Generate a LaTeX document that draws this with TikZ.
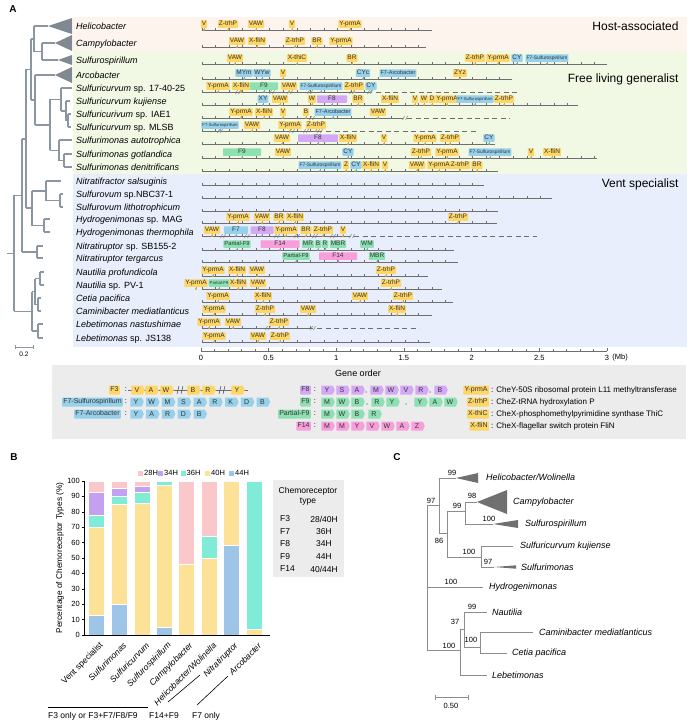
\documentclass[tikz,border=0pt]{standalone}
\usepackage{fontspec}
\setmainfont{Liberation Sans}
\usetikzlibrary{calc,shapes.symbols}
\definecolor{gY}{RGB}{253,214,102}
\definecolor{gB}{RGB}{150,208,235}
\definecolor{gP}{RGB}{212,168,245}
\definecolor{gG}{RGB}{140,224,178}
\definecolor{gK}{RGB}{248,158,218}
\definecolor{TreeClr}{RGB}{139,150,163}
\definecolor{TriClr}{RGB}{128,136,146}
\definecolor{HostBg}{RGB}{253,244,238}
\definecolor{FreeBg}{RGB}{241,248,228}
\definecolor{VentBg}{RGB}{232,238,251}
\definecolor{LegBg}{RGB}{236,236,236}
\definecolor{TrackClr}{RGB}{110,110,110}
\definecolor{CTreeClr}{RGB}{140,140,140}
\definecolor{CTriClr}{RGB}{112,112,112}
\definecolor{h28}{RGB}{250,200,202}
\definecolor{h34}{RGB}{196,160,240}
\definecolor{h36}{RGB}{128,236,214}
\definecolor{h40}{RGB}{252,226,150}
\definecolor{h44}{RGB}{158,196,232}

\tikzset{
  plab/.style={font=\bfseries\fontsize{10}{12}\selectfont},
  grp/.style={anchor=east,font=\fontsize{12}{14}\selectfont},
  sp/.style={anchor=base west,inner sep=0pt,font=\fontsize{9}{10}\selectfont},
  tree/.style={draw=TreeClr,line width=1.6pt},
  trk/.style={draw=TrackClr,line width=.6pt},
  tk/.style={draw=TrackClr,line width=.4pt},
  gbox/.style={inner xsep=1pt,inner ysep=.6pt,minimum height=7.5pt,text height=4.7pt,text depth=1.2pt,
    rounded corners=.6pt,text=black!80,font=\fontsize{6.5}{7}\selectfont},
  lkey/.style={inner xsep=1.2pt,inner ysep=0pt,minimum height=9pt,text height=5pt,text depth=1.3pt,
    rounded corners=.8pt,text=black!80,font=\fontsize{7}{8}\selectfont},
  lbox/.style={shape=signal,signal to=east,signal pointer angle=130,inner sep=0pt,minimum width=13.5pt,
    minimum height=9pt,text height=5pt,text depth=0pt,text=black!80,font=\fontsize{7}{8}\selectfont},
  ltxt/.style={anchor=west,inner sep=0pt,font=\fontsize{8}{9}\selectfont},
  axlab/.style={inner sep=0pt,font=\fontsize{7.5}{9}\selectfont},
  blab/.style={inner sep=0pt,font=\fontsize{7.5}{9}\selectfont},
  xlab/.style={anchor=east,rotate=45,inner sep=0pt,font=\fontsize{8.5}{10}\selectfont},
  btxt/.style={inner sep=0pt,font=\fontsize{8.5}{10}\selectfont},
  ttxt/.style={inner sep=0pt,font=\fontsize{8.5}{10}\selectfont},
  ctree/.style={draw=CTreeClr,line width=1pt},
  clab/.style={anchor=west,inner sep=0pt,font=\itshape\fontsize{9}{10}\selectfont},
  bs/.style={inner sep=0pt,font=\fontsize{7.5}{9}\selectfont}
}

\newcommand{\fsul}{{\fontsize{4.9}{5}\selectfont F7-Sulfurospirillum}}
\newcommand{\fsulS}{{\fontsize{4.2}{5}\selectfont F7-Sulfurospirillum}}
\newcommand{\farc}{{\fontsize{5.5}{6}\selectfont F7-Arcobacter}}
\newcommand{\fpar}{{\fontsize{5.8}{6}\selectfont Partial-F9}}
\newcommand{\fparS}{{\fontsize{4.3}{5}\selectfont Partial-F9}}

\newcommand{\gene}[5]{%
  \draw[#3!80!black,line width=.5pt] (#1,#2+1.5) -- (#1,#2+4);
  \fill[#3!80!black] (#1,#2+4) circle (1.2);
  \node[gbox,fill=#3,minimum width=#4] (g#2-#1) at (#1,#2-2) {#5};}
\newcommand{\brk}[2]{\draw[TrackClr,line width=.45pt] (#1-2.5,#2+6) -- (#1-.5,#2+2) (#1+.5,#2+6) -- (#1+2.5,#2+2);}

\begin{document}
\begin{tikzpicture}[x=1pt,y=-1pt]
\useasboundingbox (0,0) rectangle (694,728);

% panel A
\node[plab] (labA) at (13,9) {A};
\fill[HostBg] (73,17) rectangle (687,51);
\fill[FreeBg] (73,51) rectangle (687,174);
\fill[VentBg] (73,174) rectangle (687,347);
\node[grp] (host) at (682,26) {Host-associated};
\node[grp] (free) at (682,79) {Free living generalist};
\node[grp] (vent) at (682,184) {Vent specialist};

\foreach \y/\nm [count=\i] in {26/{\textit{Helicobacter}},43/{\textit{Campylobacter}},60/{\textit{Sulfurospirillum}},
  75/{\textit{Arcobacter}},88/{\textit{Sulfuricurvum} sp. 17-40-25},101/{\textit{Sulfuricurvum kujiense}},
  114/{\textit{Sulfuricurivum} sp. IAE1},127/{\textit{Sulfuricurvum} sp. MLSB},140/{\textit{Sulfurimonas autotrophica}},
  154/{\textit{Sulfurimonas gotlandica}},167/{\textit{Sulfurimonas denitrificans}},181/{\textit{Nitratifractor salsuginis}},
  194/{\textit{Sulfurovum} sp.NBC37-1},207/{\textit{Sulfurovum lithotrophicum}},219/{\textit{Hydrogenimonas} sp. MAG},
  232/{\textit{Hydrogenimonas thermophila}},246/{\textit{Nitratiruptor} sp. SB155-2},258/{\textit{Nitratiruptor tergarcus}},
  272/{\textit{Nautilia profundicola}},285/{\textit{Nautilia} sp. PV-1},298/{\textit{Cetia pacifica}},
  311/{\textit{Caminibacter mediatlanticus}},324/{\textit{Lebetimonas nastushimae}},338/{\textit{Lebetimonas} sp. JS138}}
  \node[sp] (sp\i) at (76,\y+3.2) {\nm};

% tree
\begin{scope}[tree]
\draw (42,43) -- (42,60) (42,43) -- (55,43) (42,60) -- (58,60);
\draw (34,26) -- (34,51.5) (34,26) -- (48,26) (34,51.5) -- (42,51.5);
\draw (68,114) -- (68,127) (68,114) -- (71,114) (68,127) -- (71,127);
\draw (66,101) -- (66,120.5) (66,101) -- (70,101) (66,120.5) -- (68,120.5);
\draw (61,88) -- (61,110.8) (61,88) -- (72,88) (61,110.8) -- (66,110.8);
\draw (64,154) -- (64,167) (64,154) -- (72,154) (64,167) -- (72,167);
\draw (59,140) -- (59,160.5) (59,140) -- (72,140) (59,160.5) -- (64,160.5);
\draw (50,99.4) -- (50,150.3) (50,99.4) -- (61,99.4) (50,150.3) -- (59,150.3);
\draw (35,75) -- (35,124.8) (35,75) -- (55,75) (35,124.8) -- (50,124.8);
\draw (31,38.8) -- (31,99.9) (31,38.8) -- (34,38.8) (31,99.9) -- (35,99.9);
\draw (60,194) -- (60,207) (60,194) -- (63,194) (60,207) -- (63,207);
\draw (46,181) -- (46,200.5) (46,181) -- (61,181) (46,200.5) -- (60,200.5);
\draw (44,219) -- (44,232) (44,219) -- (50,219) (44,232) -- (50,232);
\draw (32,190.8) -- (32,225.5) (32,190.8) -- (46,190.8) (32,225.5) -- (44,225.5);
\draw (37,246) -- (37,258) (37,246) -- (43,246) (37,258) -- (43,258);
\draw (26,69.3) -- (26,208.1) (26,69.3) -- (31,69.3) (26,208.1) -- (32,208.1);
\draw (22,138.7) -- (22,252) (22,138.7) -- (26,138.7) (22,252) -- (37,252);
\draw (40,272) -- (40,285) (40,272) -- (44,272) (40,285) -- (44,285);
\draw (38,298) -- (38,311) (38,298) -- (41,298) (38,311) -- (41,311);
\draw (38,324) -- (38,338) (38,324) -- (43,324) (38,338) -- (43,338);
\draw (35,278.5) -- (35,304.5) (35,278.5) -- (40,278.5) (35,304.5) -- (38,304.5);
\draw (32,291.5) -- (32,331) (32,291.5) -- (35,291.5) (32,331) -- (38,331);
\draw (14,195.3) -- (14,311.3) (14,195.3) -- (22,195.3) (14,311.3) -- (32,311.3) (7,253.3) -- (14,253.3);
\end{scope}
\fill[TriClr] (48,26) -- (72,18) -- (72,34) -- cycle;
\fill[TriClr] (55,43) -- (72,35) -- (72,51) -- cycle;
\fill[TriClr] (58,60) -- (72,55) -- (72,65) -- cycle;
\fill[TriClr] (55,75) -- (72,67) -- (72,83) -- cycle;
\draw[TreeClr,line width=.6pt] (15,347) -- (33,347) (15,345) -- (15,349) (33,345) -- (33,349);
\node[inner sep=0pt,font=\fontsize{6.5}{7}\selectfont] (sc02) at (24,354) {0.2};

% gene tracks
\foreach \y/\xe in {26/432,43/426,60/607,75/512,101/578,140/495,154/597,167/498,181/484,194/552,207/498,
  219/497,246/454,258/458,272/428,285/442,298/453,311/432,338/430}{
  \draw[trk] (202,\y+4) -- (\xe,\y+4);
  \pgfmathtruncatemacro{\nt}{(\xe-202)/13.53}
  \foreach \k in {0,...,\nt} \draw[tk] ({202+13.53*\k},\y+4) -- ++(0,-1.8);
}
\foreach \y/\xs/\xe in {88/372/518,114/403/510,127/322/477,232/350/537,324/313/419}{
  \draw[trk] (202,\y+4) -- (\xs,\y+4);
  \draw[trk,dash pattern=on 5pt off 3.5pt] (\xs+4,\y+4) -- (\xe,\y+4);
  \pgfmathtruncatemacro{\nt}{(\xs-202)/13.53}
  \foreach \k in {0,...,\nt} \draw[tk] ({202+13.53*\k},\y+4) -- ++(0,-1.8);
}
\foreach \x in {238,272,290,310,352,370} \brk{\x}{88};
\foreach \x in {312,405} \brk{\x}{114};
\foreach \x in {220,292,306,320} \brk{\x}{127};
\foreach \x in {223,247,277,297,315,333,352} \brk{\x}{232};
\foreach \x in {268,313} \brk{\x}{324};

\foreach \x/\cl/\gw/\gt in {204/gY/0/V,228/gY/0/Z-trhP,256/gY/0/VAW,292/gY/0/V,350/gY/0/Y-prmA} \gene{\x}{26}{\cl}{\gw}{\gt};
\foreach \x/\cl/\gw/\gt in {237/gY/0/VAW,257/gY/0/X-fliN,295/gY/0/Z-trhP,317/gY/0/BR,341/gY/0/Y-prmA} \gene{\x}{43}{\cl}{\gw}{\gt};
\foreach \x/\cl/\gw/\gt in {235/gY/0/VAW,297/gY/0/X-thiC,352/gY/0/BR,475/gY/0/Z-trhP,498/gY/0/Y-prmA,517/gB/0/CY,547/gB/0/\fsul} \gene{\x}{60}{\cl}{\gw}{\gt};
\foreach \x/\cl/\gw/\gt in {244/gB/0/MYm,262/gB/0/WYw,283/gY/0/V,363/gB/0/CYc,398/gB/0/\farc,460/gY/0/ZYz} \gene{\x}{75}{\cl}{\gw}{\gt};
\foreach \x/\cl/\gw/\gt in {218/gY/0/Y-prmA,241/gY/0/X-fliN,264/gG/28/F9,289/gY/0/VAW,321/gB/0/\fsul,354/gY/0/Z-trhP,371/gB/0/CY} \gene{\x}{88}{\cl}{\gw}{\gt};
\foreach \x/\cl/\gw/\gt in {263/gB/0/XY,280/gY/0/VAW,312/gY/0/W,332/gP/30/F8,358/gY/0/BR,390/gY/0/X-fliN,415/gY/0/V,424/gY/0/W,432/gY/0/D,447/gY/0/Y-prmA,475/gB/0/\fsulS,504/gY/0/Z-trhP} \gene{\x}{101}{\cl}{\gw}{\gt};
\foreach \x/\cl/\gw/\gt in {241/gY/0/Y-prmA,264/gY/0/X-fliN,283/gY/0/V,306/gY/0/B,333/gB/0/\farc,378/gY/0/VAW} \gene{\x}{114}{\cl}{\gw}{\gt};
\foreach \x/\cl/\gw/\gt in {220/gB/0/\fsulS,252/gY/0/VAW,290/gY/0/Y-prmA,316/gY/0/Z-trhP} \gene{\x}{127}{\cl}{\gw}{\gt};
\foreach \x/\cl/\gw/\gt in {282/gY/0/VAW,318/gP/40/F8,348/gY/0/X-fliN,384/gY/0/V,425/gY/0/Y-prmA,450/gY/0/Z-trhP,489/gB/0/CY} \gene{\x}{140}{\cl}{\gw}{\gt};
\foreach \x/\cl/\gw/\gt in {242/gG/38/F9,283/gY/0/VAW,348/gB/0/CY,421/gY/0/Z-trhP,447/gY/0/Y-prmA,490/gB/0/\fsul,531/gY/0/V,552/gY/0/X-fliN} \gene{\x}{154}{\cl}{\gw}{\gt};
\foreach \x/\cl/\gw/\gt in {320/gB/0/\fsul,346/gY/0/Z,356/gB/0/CY,371/gY/0/X-fliN,385/gY/0/V,417/gY/0/VAW,439/gY/0/Y-prmA,460/gY/0/Z-trhP,477/gY/0/BR} \gene{\x}{167}{\cl}{\gw}{\gt};
\foreach \x/\cl/\gw/\gt in {238/gY/0/Y-prmA,262/gY/0/VAW,279/gY/0/BR,295/gY/0/X-fliN,458/gY/0/Z-trhP} \gene{\x}{219}{\cl}{\gw}{\gt};
\foreach \x/\cl/\gw/\gt in {212/gY/0/VAW,236/gB/24/F7,262/gP/23/F8,286/gY/0/Y-prmA,306/gY/0/BR,323/gY/0/Z-trhP,343/gY/0/V} \gene{\x}{232}{\cl}{\gw}{\gt};
\foreach \x/\cl/\gw/\gt in {237/gG/0/\fpar,280/gK/39/F14,308/gG/0/MR,318/gG/0/B,325/gG/0/R,338/gG/0/MBR,367/gG/0/WM} \gene{\x}{246}{\cl}{\gw}{\gt};
\foreach \x/\cl/\gw/\gt in {296/gG/0/\fpar,338/gK/38/F14,377/gG/0/MBR} \gene{\x}{258}{\cl}{\gw}{\gt};
\foreach \x/\cl/\gw/\gt in {213/gY/0/Y-prmA,237/gY/0/X-fliN,257/gY/0/VAW,386/gY/0/Z-trhP} \gene{\x}{272}{\cl}{\gw}{\gt};
\foreach \x/\cl/\gw/\gt in {196/gY/0/Y-prmA,219/gG/0/\fparS,238/gY/0/X-fliN,258/gY/0/VAW,391/gY/0/Z-trhP} \gene{\x}{285}{\cl}{\gw}{\gt};
\foreach \x/\cl/\gw/\gt in {218/gY/0/Y-prmA,263/gY/0/X-fliN,360/gY/0/VAW,403/gY/0/Z-trhP} \gene{\x}{298}{\cl}{\gw}{\gt};
\foreach \x/\cl/\gw/\gt in {214/gY/0/Y-prmA,265/gY/0/Z-trhP,308/gY/0/VAW,397/gY/0/X-fliN} \gene{\x}{311}{\cl}{\gw}{\gt};
\foreach \x/\cl/\gw/\gt in {209/gY/0/Y-prmA,233/gY/0/VAW,279/gY/0/Z-trhP} \gene{\x}{324}{\cl}{\gw}{\gt};
\foreach \x/\cl/\gw/\gt in {214/gY/0/Y-prmA,258/gY/0/VAW,280/gY/0/Z-trhP} \gene{\x}{338}{\cl}{\gw}{\gt};

% gene order axis
\draw[TrackClr,line width=.6pt] (201,351) -- (607,351);
\foreach \k in {0,...,30} \draw[tk] ({201+13.53*\k},351) -- ++(0,-1.6);
\foreach \k/\lb in {0/0,5/0.5,10/1,15/1.5,20/2,25/2.5,30/3}{
  \draw[TrackClr,line width=.6pt] ({201+13.53*\k},351) -- ++(0,-3);
  \node[axlab] (ax\k) at ({201+13.53*\k},358) {\lb};}
\node[axlab,anchor=west] (mb) at ($(ax30.east)+(3,0)$) {(Mb)};

% legend
\fill[LegBg] (52,365) rectangle (686,439);
\node[inner sep=0pt,font=\fontsize{9}{10}\selectfont] (gorder) at (358,373) {Gene order};
\node[lkey,fill=gY,anchor=east] (kF3) at (120,390) {F3};
\node[lkey,fill=gB,anchor=east] (kF7s) at (123,402) {F7-Sulfurospirillum};
\node[lkey,fill=gB,anchor=east] (kF7a) at (121,414) {F7-Arcobacter};
\foreach \y in {390,402,414} \node[axlab] at (126,\y) {:};
\draw[TrackClr,line width=.5pt] (128,390) -- (248,390);
\foreach \x/\lt in {137/V,151/A,166/W,193/B,208/R,237/Y} \node[lbox,fill=gY] (f3-\x) at (\x,390) {\lt};
\foreach \x in {180,222} \draw[black!70,line width=.5pt] (\x-3,394) -- (\x-1,386) (\x+1,394) -- (\x+3,386);
\foreach \lt [count=\i] in {Y,W,M,S,A,R,K,D,B} \node[lbox,fill=gB] (f7s-\i) at ({120.2+15.8*\i},402) {\lt};
\foreach \lt [count=\i] in {Y,A,R,D,B} \node[lbox,fill=gB] (f7a-\i) at ({120.2+15.8*\i},414) {\lt};

\node[lkey,fill=gP,anchor=east] (kF8) at (311,390) {F8};
\node[lkey,fill=gG,anchor=east] (kF9) at (311,402) {F9};
\node[lkey,fill=gG,anchor=east] (kPF9) at (311,414) {Partial-F9};
\node[lkey,fill=gK,anchor=east] (kF14) at (311,426) {F14};
\foreach \y in {390,402,414,426} \node[axlab] at (315,\y) {:};
\foreach \x/\lt in {327/Y,342/S,357/A,376/M,391/W,406/V,421/R,440/B} \node[lbox,fill=gP] (f8-\x) at (\x,390) {\lt};
\foreach \x/\lt in {327/M,342/W,357/B,377/R,392/Y,420/Y,435/A,450/W} \node[lbox,fill=gG] (f9-\x) at (\x,402) {\lt};
\foreach \x/\lt in {327/M,342/W,357/B,374/R} \node[lbox,fill=gG] (pf9-\x) at (\x,414) {\lt};
\foreach \x/\lt in {327/M,342/M,357/Y,372/V,387/W,402/A,417/Z} \node[lbox,fill=gK] (f14-\x) at (\x,426) {\lt};
\foreach \x/\y/\cl in {366/390/gP,430/390/gP,367/402/gG,406/402/gG} \fill[\cl!80!black] (\x,\y+2) circle (.8);

\foreach \y/\k/\d in {390/Y-prmA/CheY-50S ribosomal protein L11 methyltransferase,402/Z-trhP/CheZ-tRNA hydroxylation P,
  414/X-thiC/CheX-phosphomethylpyrimidine synthase ThiC,426/X-fliN/CheX-flagellar switch protein FliN}{
  \node[lkey,fill=gY,anchor=east] (k\k) at (489,\y) {\k};
  \node[ltxt] (d\k) at (491,\y) {: \d};}

% panel B
\node[plab] (labB) at (14,457) {B};
\foreach \x/\cl/\lb [count=\i] in {140.5/h28/28H,160.5/h34/34H,183/h36/36H,207.5/h40/40H,231.5/h44/44H}{
  \fill[\cl] (\x-2.5,470.5) rectangle (\x+2.5,475.5);
  \node[blab,anchor=west] (lg\i) at (\x+3.5,473) {\lb};}
\begin{scope}[shift={(0,635)},y=1.54pt]
\foreach \bx/\pa/\pb/\pc/\pd/\pe in {96/13/57/7.5/15/7.5,119/20/65/5/5/5,142/0/85.7/7.1/3.6/3.6,164/5/92/3/0/0,
  186/0/46/0/0/54,209/0/50/14/0/36,231/58.3/41.7/0/0/0,254/0/4/96/0/0}{
  \filldraw[fill=h44,draw=white,line width=.5pt] (\bx-8,0) rectangle (\bx+8,\pa);
  \filldraw[fill=h40,draw=white,line width=.5pt] (\bx-8,\pa) rectangle (\bx+8,\pa+\pb);
  \filldraw[fill=h36,draw=white,line width=.5pt] (\bx-8,\pa+\pb) rectangle (\bx+8,\pa+\pb+\pc);
  \filldraw[fill=h34,draw=white,line width=.5pt] (\bx-8,\pa+\pb+\pc) rectangle (\bx+8,\pa+\pb+\pc+\pd);
  \filldraw[fill=h28,draw=white,line width=.5pt] (\bx-8,\pa+\pb+\pc+\pd) rectangle (\bx+8,100);
}
\draw[black,line width=.8pt] (84,100) -- (84,0) -- (270,0);
\foreach \v in {0,10,...,100}{
  \draw[black,line width=.6pt] (84,\v) -- (81.5,\v);
  \node[blab,anchor=east] (yt\v) at (80,\v) {\v};}
\foreach \bx/\lb [count=\i] in {96/Vent specialist,119/{\textit{Sulfurimonas}},142/{\textit{Sulfuricurvum}},
  164/{\textit{Sulfurospirillum}},186/{\textit{Campylobacter}},209/{\textit{Helicobacter/Wolinella}},
  231/{\textit{Nitratiruptor}},254/{\textit{Arcobacter}}}
  \node[xlab] (xl\i) at (\bx+6,-6) {\lb};
\end{scope}
\node[rotate=90,inner sep=0pt,font=\fontsize{8.3}{10}\selectfont] (ytitle) at (60,558) {Percentage of Chemoreceptor Types (\%)};
\draw[black,line width=.6pt] (48,707) -- (148,707);
\draw[black,line width=.6pt] (168,702) -- (200,675);
\draw[black,line width=.6pt] (197,705) -- (228,676);
\node[btxt,anchor=west] (grp1) at (48,716) {F3 only or F3+F7/F8/F9};
\node[btxt] (grp2) at (164,716) {F14+F9};
\node[btxt] (grp3) at (206,716) {F7 only};

\fill[LegBg] (273,480) rectangle (344,577);
\node[ttxt] (ct1) at (308,491) {Chemoreceptor};
\node[ttxt] (ct2) at (308,502) {type};
\foreach \y/\f/\h in {519/F3/{28/40H},532/F7/36H,544/F8/34H,557/F9/44H,569/F14/{40/44H}}{
  \node[ttxt,anchor=west] (tf\y) at (280,\y) {\f};
  \node[ttxt] (th\y) at (324,\y) {\h};}

% panel C
\node[plab] (labC) at (397,457) {C};
\begin{scope}[ctree]
\draw (427,505) -- (427,650) (427,505) -- (439,505);
\draw (439,478) -- (439,533) (439,478) -- (456,478) (439,533) -- (447,533);
\draw (447,511) -- (447,557) (447,511) -- (465,511) (447,557) -- (481,557);
\draw (465,502) -- (465,524) (465,502) -- (477,502) (465,524) -- (493,524);
\draw (481,546) -- (481,567) (481,546) -- (513,546) (481,567) -- (494,567);
\draw (427,587) -- (483,587);
\draw (427,650) -- (460,650) (460,629) -- (460,675) (460,629) -- (464,629) (460,675) -- (487,675);
\draw (464,612) -- (464,647) (464,612) -- (487,612) (464,647) -- (480,647);
\draw (480,632) -- (480,653) (480,632) -- (533,632) (480,653) -- (507,653);
\end{scope}
\fill[CTriClr] (456,478) -- (478,473) -- (478,483) -- cycle;
\fill[CTriClr] (477,502) -- (507,490) -- (507,514) -- cycle;
\fill[CTriClr] (493,524) -- (518,520) -- (518,528) -- cycle;
\fill[CTriClr] (494,567) -- (516,565.3) -- (516,568.7) -- cycle;
\node[clab] (cH) at (486,477) {Helicobacter/Wolinella};
\node[clab] (cC) at (513,502) {Campylobacter};
\node[clab] (cS) at (525,524) {Sulfurospirillum};
\node[clab] (cK) at (520,546) {Sulfuricurvum kujiense};
\node[clab] (cM) at (521,567) {Sulfurimonas};
\node[clab] (cHy) at (489,587) {Hydrogenimonas};
\node[clab] (cN) at (492,612) {Nautilia};
\node[clab] (cCa) at (539,632) {Caminibacter mediatlanticus};
\node[clab] (cCe) at (512,653) {Cetia pacifica};
\node[clab] (cL) at (492,675) {Lebetimonas};
\foreach \x/\y/\v [count=\i] in {452/473/99,431/501/97,472/496/98,457/506/99,489/519/100,439/541/86,469/552/100,
  488/562/97,451/582/100,472/607/99,455/622/37,471/640/100,449/646/100}
  \node[bs] (bs\i) at (\x,\y) {\v};
\draw[CTreeClr,line width=.8pt] (435,697) -- (468,697) (435,694.5) -- (435,699.5) (468,694.5) -- (468,699.5);
\node[bs] (sc050) at (451,706) {0.50};
\end{tikzpicture}
\end{document}
